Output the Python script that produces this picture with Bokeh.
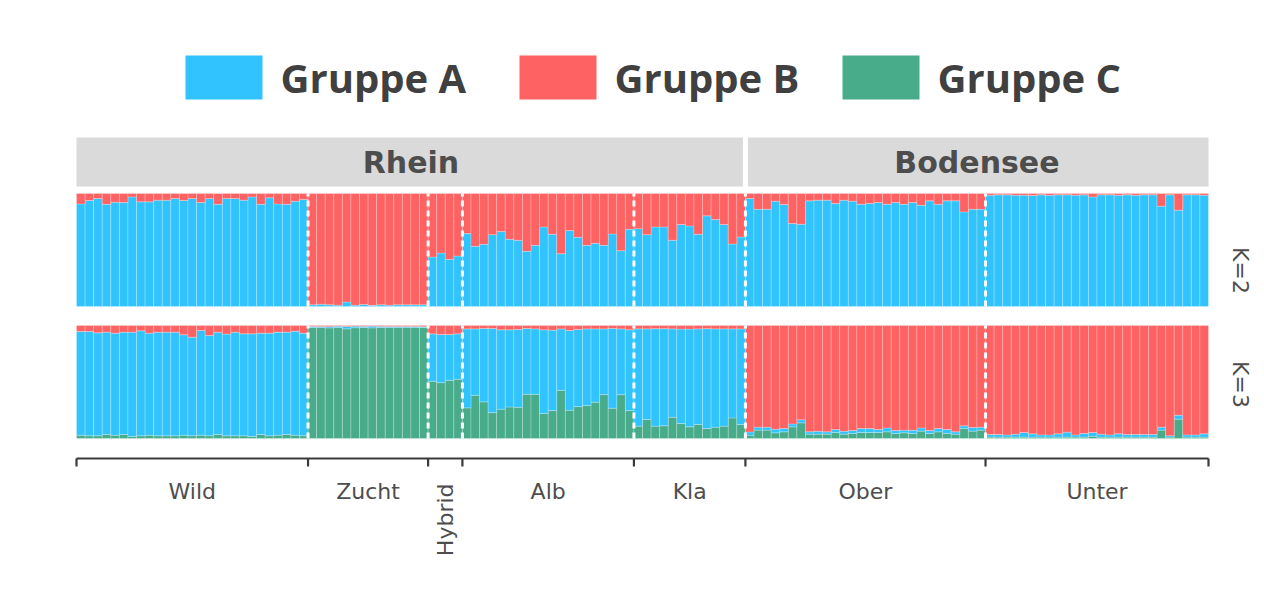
import numpy as np
from bokeh.plotting import figure
from bokeh.models import Range1d
from bokeh.core.properties import value
from bokeh.embed import file_html
from bokeh.resources import INLINE

# ---------------- data ----------------
clusters = ["Gruppe A", "Gruppe B", "Gruppe C"]
cluster_colors = ["#31C3FE", "#FE6262", "#48AB89"]
regions = ["Rhein", "Bodensee"]
populations = ["Wild", "Zucht", "Hybrid", "Alb", "Kla", "Ober", "Unter"]
population_region = ["Rhein", "Rhein", "Rhein", "Rhein", "Rhein", "Bodensee", "Bodensee"]
k_labels = ["K=2", "K=3"]

# K=2 : share of Gruppe A per individual (Gruppe B = remainder)
k2_A_wild = [0.908, 0.938, 0.956, 0.905, 0.923, 0.920, 0.970, 0.926, 0.926, 0.941, 0.941, 0.956, 0.938, 0.956,
             0.920, 0.956, 0.905, 0.956, 0.956, 0.941, 0.970, 0.905, 0.962, 0.908, 0.905, 0.932, 0.947]
k2_A_zucht = [0.015, 0.020, 0.015, 0.012, 0.040, 0.012, 0.018, 0.010, 0.015, 0.012, 0.015, 0.015, 0.015, 0.015]
k2_A_hybrid = [0.438, 0.473, 0.417, 0.447]
k2_A_alb = [0.645, 0.533, 0.550, 0.636, 0.663, 0.595, 0.586, 0.488, 0.541, 0.704, 0.639, 0.467, 0.672, 0.612,
            0.541, 0.559, 0.541, 0.642, 0.494, 0.683]
k2_A_kla = [0.689, 0.636, 0.704, 0.704, 0.586, 0.725, 0.713, 0.639, 0.802, 0.769, 0.725, 0.553, 0.615]
k2_A_ober = [0.956, 0.861, 0.861, 0.932, 0.902, 0.734, 0.728, 0.935, 0.941, 0.941, 0.911, 0.941, 0.932, 0.905,
             0.911, 0.920, 0.905, 0.920, 0.905, 0.920, 0.896, 0.935, 0.905, 0.935, 0.935, 0.837, 0.861, 0.861]
k2_A_unter = [0.985, 0.988, 0.988, 0.985, 0.985, 0.982, 0.988, 0.985, 0.988, 0.988, 0.985, 0.988, 0.970, 0.988,
              0.988, 0.985, 0.988, 0.985, 0.988, 0.988, 0.888, 0.988, 0.852, 0.988, 0.988, 0.985]

# K=3 : shares of Gruppe B and Gruppe C per individual (Gruppe A = remainder)
k3_B_wild = [0.053, 0.053, 0.065, 0.059, 0.068, 0.059, 0.059, 0.047, 0.068, 0.059, 0.059, 0.059, 0.082, 0.103,
             0.044, 0.088, 0.059, 0.076, 0.059, 0.074, 0.074, 0.068, 0.068, 0.059, 0.059, 0.050, 0.068]
k3_C_wild = [0.029, 0.024, 0.024, 0.035, 0.029, 0.035, 0.018, 0.024, 0.029, 0.024, 0.024, 0.024, 0.029, 0.024,
             0.029, 0.024, 0.035, 0.024, 0.024, 0.024, 0.018, 0.035, 0.024, 0.029, 0.035, 0.029, 0.024]
k3_B_zucht = [0.008, 0.008, 0.010, 0.006, 0.008, 0.006, 0.008, 0.006, 0.008, 0.008, 0.008, 0.008, 0.008, 0.010]
k3_C_zucht = [0.982, 0.982, 0.979, 0.982, 0.970, 0.980, 0.982, 0.979, 0.982, 0.982, 0.982, 0.982, 0.982, 0.982]
k3_B_hybrid = [0.074, 0.080, 0.080, 0.074]
k3_C_hybrid = [0.506, 0.494, 0.515, 0.524]
k3_B_alb = [0.030, 0.030, 0.026, 0.026, 0.038, 0.038, 0.035, 0.026, 0.030, 0.038, 0.041, 0.030, 0.044, 0.035,
            0.030, 0.030, 0.030, 0.026, 0.030, 0.038]
k3_C_alb = [0.271, 0.382, 0.324, 0.229, 0.259, 0.279, 0.276, 0.391, 0.391, 0.221, 0.247, 0.426, 0.250, 0.282,
            0.291, 0.321, 0.388, 0.268, 0.388, 0.247]
k3_B_kla = [0.030, 0.030, 0.028, 0.028, 0.030, 0.032, 0.032, 0.030, 0.028, 0.030, 0.030, 0.030, 0.030]
k3_C_kla = [0.109, 0.168, 0.109, 0.112, 0.188, 0.132, 0.103, 0.124, 0.088, 0.100, 0.109, 0.182, 0.124]
k3_B_ober = [0.942, 0.900, 0.900, 0.918, 0.912, 0.871, 0.833, 0.941, 0.936, 0.941, 0.921, 0.936, 0.930, 0.912,
             0.912, 0.921, 0.906, 0.930, 0.926, 0.927, 0.906, 0.930, 0.912, 0.921, 0.941, 0.888, 0.903, 0.900]
k3_C_ober = [0.029, 0.074, 0.074, 0.050, 0.059, 0.103, 0.138, 0.038, 0.038, 0.038, 0.053, 0.038, 0.044, 0.053,
             0.053, 0.053, 0.059, 0.044, 0.050, 0.044, 0.065, 0.044, 0.059, 0.044, 0.038, 0.088, 0.065, 0.074]
k3_B_unter = [0.965, 0.965, 0.968, 0.962, 0.947, 0.959, 0.968, 0.968, 0.959, 0.944, 0.968, 0.956, 0.947, 0.962,
              0.968, 0.959, 0.965, 0.965, 0.965, 0.965, 0.900, 0.975, 0.794, 0.968, 0.968, 0.959]
k3_C_unter = [0.012, 0.012, 0.012, 0.012, 0.012, 0.012, 0.012, 0.012, 0.012, 0.012, 0.012, 0.012, 0.020, 0.012,
              0.012, 0.012, 0.012, 0.012, 0.012, 0.012, 0.074, 0.012, 0.171, 0.012, 0.012, 0.012]

k2_A = np.array(k2_A_wild + k2_A_zucht + k2_A_hybrid + k2_A_alb + k2_A_kla + k2_A_ober + k2_A_unter)
k3_B = np.array(k3_B_wild + k3_B_zucht + k3_B_hybrid + k3_B_alb + k3_B_kla + k3_B_ober + k3_B_unter)
k3_C = np.array(k3_C_wild + k3_C_zucht + k3_C_hybrid + k3_C_alb + k3_C_kla + k3_C_ober + k3_C_unter)
k3_A = 1.0 - k3_B - k3_C
group_sizes = [len(k2_A_wild), len(k2_A_zucht), len(k2_A_hybrid), len(k2_A_alb),
               len(k2_A_kla), len(k2_A_ober), len(k2_A_unter)]
bounds = np.concatenate([[0], np.cumsum(group_sizes)])
n = int(bounds[-1])
idx = np.arange(n)

# ---------------- layout (page pixels -> data units) ----------------
W, H = 1262, 580
X0_PX, X1_PX = 76, 1208          # plot panel horizontal extent on page
PPB = (X1_PX - X0_PX) / n        # pixels per individual
BASE_PX, PPU = 438, 113          # bottom of K=3 panel and panel height
K2_OFF = (438 - 306) / PPU       # vertical offset of the K=2 panel


def X(px):
    return (px - X0_PX) / PPB


def Y(py):
    return (BASE_PX - py) / PPU


p = figure(width=W, height=H, output_backend="svg", toolbar_location=None,
           x_axis_type=None, y_axis_type=None, min_border=0,
           x_range=Range1d(X(0), X(W)), y_range=Range1d(Y(H), Y(0)))
p.outline_line_color = None
p.background_fill_color = "white"
p.border_fill_color = "white"

colA, colB, colC = cluster_colors
sep = dict(line_color="white", line_alpha=0.3, line_width=0.8)

# K=2 panel: A at bottom, B on top
p.quad(left=idx, right=idx + 1, bottom=K2_OFF, top=K2_OFF + k2_A, fill_color=colA, **sep)
p.quad(left=idx, right=idx + 1, bottom=K2_OFF + k2_A, top=K2_OFF + 1, fill_color=colB, **sep)
# K=3 panel: C bottom, A middle, B top
p.quad(left=idx, right=idx + 1, bottom=0, top=k3_C, fill_color=colC, **sep)
p.quad(left=idx, right=idx + 1, bottom=k3_C, top=k3_C + k3_A, fill_color=colA, **sep)
p.quad(left=idx, right=idx + 1, bottom=k3_C + k3_A, top=1, fill_color=colB, **sep)

# dashed separators between populations
inner = bounds[1:-1]
for off in (0, K2_OFF):
    p.segment(x0=inner, x1=inner, y0=off, y1=off + 1, line_color="white", line_width=3, line_dash="6 4")

# facet strips
reg_ends = [int(bounds[5]), n]
reg_starts = [0, int(bounds[5])]
gap = 2.5 / PPB
p.quad(left=[reg_starts[0], reg_starts[1] + gap], right=[reg_ends[0] - gap, reg_ends[1]],
       bottom=Y(186), top=Y(137), fill_color="#dadada", line_color=None)
p.text(x=[(a + b) / 2 for a, b in zip(reg_starts, reg_ends)], y=[Y(161.5)] * 2, text=regions,
       text_font=value("DejaVu Sans"), text_font_style="bold", text_font_size="30px",
       text_color="#4d4d4d", text_align="center", text_baseline="middle")

# K labels on the right
p.text(x=[X(1240)] * 2, y=[Y(270), Y(384)], text=k_labels, angle=-np.pi / 2,
       text_font=value("DejaVu Sans"), text_font_size="22px", text_color="#4d4d4d",
       text_align="center", text_baseline="middle")

# bottom axis with population ticks
p.segment(x0=[0], x1=[n], y0=[Y(458)], y1=[Y(458)], line_color="#3a3a3a", line_width=2.2)
p.segment(x0=bounds, x1=bounds, y0=Y(458), y1=Y(466), line_color="#3a3a3a", line_width=2.2)
centers = (bounds[:-1] + bounds[1:]) / 2
flat = [i for i, g in enumerate(populations) if g != "Hybrid"]
p.text(x=[centers[i] for i in flat], y=[Y(491)] * len(flat), text=[populations[i] for i in flat],
       text_font=value("DejaVu Sans"), text_font_size="22px", text_color="#4d4d4d",
       text_align="center", text_baseline="middle")
hi = populations.index("Hybrid")
p.text(x=[centers[hi]], y=[Y(483)], text=[populations[hi]], angle=np.pi / 2,
       text_font=value("DejaVu Sans"), text_font_size="22px", text_color="#4d4d4d",
       text_align="right", text_baseline="middle")

# legend
sw_left = [185, 519, 842]
p.quad(left=[X(v) for v in sw_left], right=[X(v + 77) for v in sw_left],
       bottom=Y(99), top=Y(55), fill_color=cluster_colors, line_color=None)
p.text(x=[X(v + 95) for v in sw_left], y=[Y(77)] * 3, text=clusters,
       text_font=value("Open Sans"), text_font_style="bold", text_font_size="40px",
       text_color="#404040", text_align="left", text_baseline="middle")

open("out.html", "w").write(file_html(p, INLINE))
